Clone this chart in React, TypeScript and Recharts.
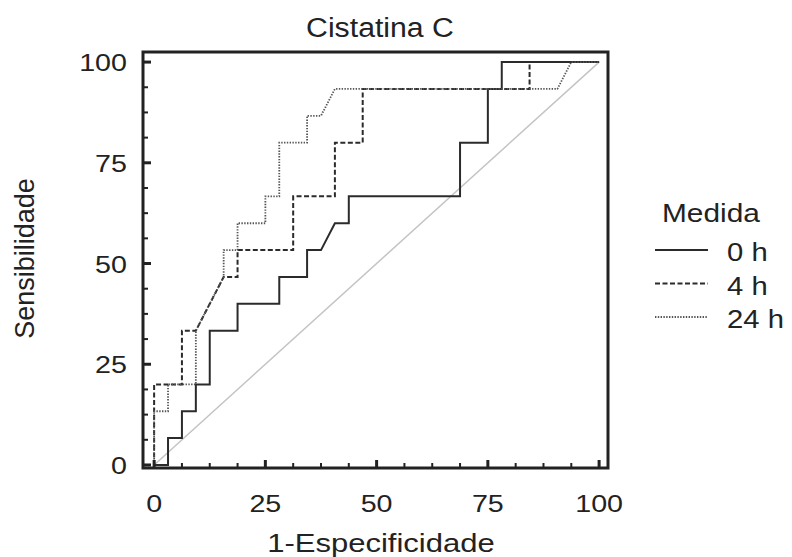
import React from 'react';
import { LineChart, Line, XAxis, YAxis, ReferenceArea, ReferenceLine, Legend } from 'recharts';

// ---- data ----
const fpr0h = [0, 3.125, 3.125, 6.25, 6.25, 9.375, 9.375, 12.5, 12.5, 18.75, 18.75, 28.125, 28.125, 34.375, 34.375, 37.5, 40.625, 43.75, 43.75, 68.75, 68.75, 75, 75, 78.125, 78.125, 100];
const tpr0h = [0, 0, 6.67, 6.67, 13.33, 13.33, 20, 20, 33.33, 33.33, 40, 40, 46.67, 46.67, 53.33, 53.33, 60, 60, 66.67, 66.67, 80, 80, 93.33, 93.33, 100, 100];

const fpr4h = [0, 0, 6.25, 6.25, 9.375, 15.625, 18.75, 18.75, 31.25, 31.25, 40.625, 40.625, 46.875, 46.875, 84.375, 84.375, 100];
const tpr4h = [0, 20, 20, 33.33, 33.33, 46.67, 46.67, 53.33, 53.33, 66.67, 66.67, 80, 80, 93.33, 93.33, 100, 100];

const fpr24h = [0, 0, 3.125, 3.125, 9.375, 9.375, 15.625, 15.625, 18.75, 18.75, 25, 25, 28.125, 28.125, 34.375, 34.375, 37.5, 40.625, 90.625, 93.75, 100];
const tpr24h = [0, 13.33, 13.33, 20, 20, 33.33, 46.67, 53.33, 53.33, 60, 60, 66.67, 66.67, 80, 80, 86.67, 86.67, 93.33, 93.33, 100, 100];

const axisTicks = [0, 6.25, 12.5, 18.75, 25, 31.25, 37.5, 43.75, 50, 56.25, 62.5, 68.75, 75, 81.25, 87.5, 93.75, 100];
const xDomain = [-2.5, 102];
const yDomain = [-0.75, 102.5];

const title = 'Cistatina C';
const xLabel = '1-Especificidade';
const yLabel = 'Sensibilidade';
const legendTitle = 'Medida';

const toPoints = (xs: number[], ys: number[]) => xs.map((x, i) => ({ x, y: ys[i] }));

const series = [
  { name: '0 h', data: toPoints(fpr0h, tpr0h), color: '#2b2b2b', width: 2, dash: undefined as string | undefined },
  { name: '4 h', data: toPoints(fpr4h, tpr4h), color: '#2b2b2b', width: 2, dash: '5 2.5' },
  { name: '24 h', data: toPoints(fpr24h, tpr24h), color: '#555555', width: 1.8, dash: '1.4 1.4' },
];

const FONT = '"Liberation Sans", Arial, Helvetica, sans-serif';
const SX = 1.17;
const INK = '#222';

function SText({ x, y, size, anchor = 'start', children }: any) {
  return (
    <g transform={`translate(${x},${y}) scale(${SX},1)`}>
      <text x={0} y={0} fontSize={size} textAnchor={anchor} fontFamily={FONT} fill={INK}>
        {children}
      </text>
    </g>
  );
}

const isMajor = (v: number) => Math.abs(v % 25) < 1e-6;

const XTick = (props: any) => {
  const { x, y, payload } = props;
  const v = payload.value;
  const major = isMajor(v);
  return (
    <g>
      <line x1={x} x2={x} y1={y} y2={y - (major ? 8 : 5)} stroke={INK} strokeWidth={major ? 3 : 2} />
      {major && (
        <SText x={x} y={y + 44} size={24.5} anchor="middle">
          {v}
        </SText>
      )}
    </g>
  );
};

const YTick = (props: any) => {
  const { x, y, payload } = props;
  const v = payload.value;
  const major = isMajor(v);
  return (
    <g>
      <line x1={x} x2={x + (major ? 8 : 5)} y1={y} y2={y} stroke={INK} strokeWidth={major ? 3 : 2} />
      {major && (
        <SText x={x - 16} y={y + 9} size={24.5} anchor="end">
          {v}
        </SText>
      )}
    </g>
  );
};

const XLabel = () => (
  <SText x={381} y={552} size={26.5} anchor="middle">
    {xLabel}
  </SText>
);

const YLabel = () => (
  <text
    x={34}
    y={258.5}
    transform="rotate(-90, 34, 258.5)"
    fontSize={27}
    textAnchor="middle"
    fontFamily={FONT}
    fill={INK}
  >
    {yLabel}
  </text>
);

const renderLegend = () => (
  <svg width={140} height={145} style={{ overflow: 'visible' }}>
    <SText x={12} y={27} size={25.5}>
      {legendTitle}
    </SText>
    {series.map((s, i) => {
      const ly = 55 + i * 33.5;
      return (
        <g key={s.name}>
          <line x1={5} x2={58} y1={ly} y2={ly} stroke={s.color} strokeWidth={s.width} strokeDasharray={s.dash} />
          <SText x={77} y={ly + 11} size={25}>
            {s.name}
          </SText>
        </g>
      );
    })}
  </svg>
);

export default function App() {
  return (
    <div style={{ position: 'absolute', left: 0, top: 0, width: 792, height: 557, background: '#fff' }}>
      <svg width={792} height={60} style={{ position: 'absolute', left: 0, top: 0 }}>
        <g transform={`translate(380,37) scale(1.12,1)`}>
          <text x={0} y={0} fontSize={27} textAnchor="middle" fontFamily={FONT} fill={INK}>
            {title}
          </text>
        </g>
      </svg>
      <LineChart
        width={792}
        height={557}
        margin={{ top: 52, right: 184, bottom: 49, left: 83 }}
        style={{ position: 'absolute', left: 0, top: 0 }}
      >
        <XAxis
          type="number"
          dataKey="x"
          domain={xDomain}
          ticks={axisTicks}
          interval={0}
          allowDataOverflow
          axisLine={false}
          tickLine={false}
          tickSize={0}
          tickMargin={0}
          height={40}
          tick={<XTick />}
          label={<XLabel />}
        />
        <YAxis
          type="number"
          dataKey="y"
          domain={yDomain}
          ticks={axisTicks}
          interval={0}
          allowDataOverflow
          axisLine={false}
          tickLine={false}
          tickSize={0}
          tickMargin={0}
          width={60}
          tick={<YTick />}
          label={<YLabel />}
        />
        <ReferenceLine
          segment={[{ x: 0, y: 0 }, { x: 100, y: 100 }]}
          stroke="#c4c4c4"
          strokeWidth={1.5}
          ifOverflow="visible"
        />
        {series.map((s) => (
          <Line
            key={s.name}
            name={s.name}
            data={s.data}
            dataKey="y"
            type="linear"
            stroke={s.color}
            strokeWidth={s.width}
            strokeDasharray={s.dash}
            dot={false}
            activeDot={false}
            isAnimationActive={false}
          />
        ))}
        <ReferenceArea
          x1={xDomain[0]}
          x2={xDomain[1]}
          y1={yDomain[0]}
          y2={yDomain[1]}
          fill="none"
          fillOpacity={0}
          stroke={INK}
          strokeWidth={3}
          ifOverflow="visible"
        />
        <Legend
          layout="horizontal"
          verticalAlign="middle"
          align="center"
          content={renderLegend}
          wrapperStyle={{ position: 'absolute', left: 650, top: 195, width: 140, height: 145 }}
        />
      </LineChart>
    </div>
  );
}
